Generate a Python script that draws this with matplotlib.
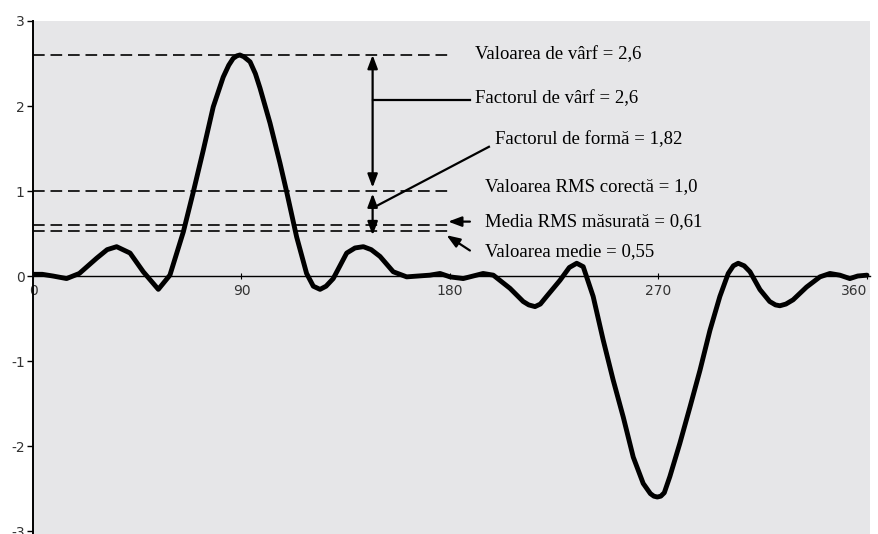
import matplotlib
matplotlib.use("Agg")
import matplotlib.pyplot as plt

# waveform (degrees, value)
angle_deg = [0, 4, 8.6, 14.5, 20, 27.5, 32, 36.1, 41.9, 47.6, 54.1, 59.1, 64.9, 69.2, 73.5, 77.8,
             82.1, 84.5, 86.4, 88, 89.3, 91, 93.7, 96, 98, 102.3, 106.6, 109.5, 113.8, 118.1,
             121, 123.9, 126.5, 129.6, 135.4, 139, 142.6, 146, 149.8, 155.5, 161.3, 171.3, 175.7,
             180, 185.7, 194.3, 198.7, 205.9, 211.6, 214, 216.7, 219, 221.7, 227.5, 231.5, 234.7,
             237.5, 241.8, 246.1, 250.4, 254.8, 259.1, 263.4, 266.5, 268, 269.5, 271, 272.5,
             274.9, 279.2, 283.6, 287.9, 292.2, 296.5, 300.1, 302.3, 304.4, 307, 309.5, 313.8,
             318, 320.5, 322.4, 325, 328.1, 333.9, 339.7, 344, 348.3, 352.6, 356, 360]
signal = [0.02, 0.02, 0.0, -0.03, 0.03, 0.21, 0.31, 0.345, 0.27, 0.05, -0.157, 0.01, 0.52, 0.99,
          1.48, 1.99, 2.34, 2.48, 2.56, 2.59, 2.6, 2.58, 2.52, 2.38, 2.21, 1.80, 1.33, 0.99,
          0.46, 0.03, -0.12, -0.157, -0.12, -0.03, 0.27, 0.33, 0.345, 0.31, 0.23, 0.05, -0.01,
          0.01, 0.03, -0.01, -0.03, 0.03, 0.01, -0.145, -0.30, -0.34, -0.36, -0.33, -0.24, -0.05,
          0.10, 0.15, 0.11, -0.24, -0.75, -1.22, -1.66, -2.13, -2.44, -2.56, -2.59, -2.6, -2.59,
          -2.55, -2.36, -1.97, -1.54, -1.11, -0.64, -0.24, 0.03, 0.12, 0.15, 0.12, 0.05, -0.16,
          -0.30, -0.34, -0.35, -0.33, -0.28, -0.13, -0.01, 0.03, 0.01, -0.03, 0.0, 0.01]

x_ticks = [0, 90, 180, 270, 360]
y_ticks = [-3, -2, -1, 0, 1, 2, 3]

# reference levels (drawn dashed)
level_peak = 2.6
level_rms_true = 1.0
level_rms_meas = 0.6
level_mean = 0.525

labels = ["Valoarea de vârf = 2,6", "Factorul de vârf = 2,6", "Factorul de formă = 1,82",
          "Valoarea RMS corectă = 1,0", "Media RMS măsurată = 0,61", "Valoarea medie = 0,55"]

W, H = 879, 534
fig = plt.figure(figsize=(W / 100, H / 100), dpi=100, facecolor="white")
ax = fig.add_axes([33 / W, 0, (870 - 33) / W, (H - 21) / H])
ax.set_facecolor("#e6e6e8")
ax.set_xlim(0, 361.3)
ax.set_ylim(-3.035, 3)

for s in ["top", "right"]:
    ax.spines[s].set_visible(False)
ax.spines["bottom"].set_position(("data", 0))
ax.spines["bottom"].set_linewidth(1.0)
ax.spines["left"].set_linewidth(1.4)

ax.set_xticks(x_ticks)
ax.set_xticklabels([str(v) for v in x_ticks])
ax.set_yticks(y_ticks)
ax.set_yticklabels([str(v) for v in y_ticks])
ax.tick_params(axis="x", direction="inout", length=5, width=0.8, pad=3,
               labelsize=10, labelcolor="#333333")
ax.tick_params(axis="y", direction="out", length=4, width=1.0, pad=2,
               labelsize=10, labelcolor="#333333")
xlabels = ax.get_xticklabels()
xlabels[-1].set_horizontalalignment("right")
xlabels[-1].set_x(361.3)

# dashed reference lines
dash_kw = dict(color="black", lw=1.2, dashes=(7, 3.5))
for lv in [level_peak, level_rms_true, level_rms_meas, level_mean]:
    ax.plot([0, 179], [lv, lv], **dash_kw)

# waveform
ax.plot(angle_deg, signal, color="black", lw=3.5, solid_joinstyle="round",
        solid_capstyle="round", zorder=5)

# annotation arrows
xa = 146.6
arr = dict(arrowstyle="<|-|>,head_length=0.8,head_width=0.3", color="black", lw=1.6,
           shrinkA=0, shrinkB=0, mutation_scale=10)
ax.annotate("", xy=(xa, 2.6), xytext=(xa, 1.04), arrowprops=arr)
ax.annotate("", xy=(xa, 0.97), xytext=(xa, 0.48), arrowprops=arr)
ax.plot([xa, 188.6], [2.07, 2.07], color="black", lw=1.6)
ax.plot([xa, 196.8], [0.8, 1.52], color="black", lw=1.6)

small = dict(arrowstyle="-|>,head_length=0.8,head_width=0.3", color="black", lw=1.6,
             shrinkA=0, shrinkB=0, mutation_scale=10)
ax.annotate("", xy=(179.2, 0.64), xytext=(188.6, 0.64), arrowprops=small)
ax.annotate("", xy=(178.5, 0.48), xytext=(188.6, 0.30), arrowprops=small)

tkw = dict(family="Liberation Serif", fontsize=13.5, ha="left", va="center", color="black")
ax.text(190.8, 2.6, labels[0], **tkw)
ax.text(190.8, 2.09, labels[1], **tkw)
ax.text(199.4, 1.6, labels[2], **tkw)
ax.text(195.1, 1.05, labels[3], **tkw)
ax.text(195.1, 0.64, labels[4], **tkw)
ax.text(195.1, 0.29, labels[5], **tkw)

fig.savefig("out.png", dpi=100, facecolor="white")
